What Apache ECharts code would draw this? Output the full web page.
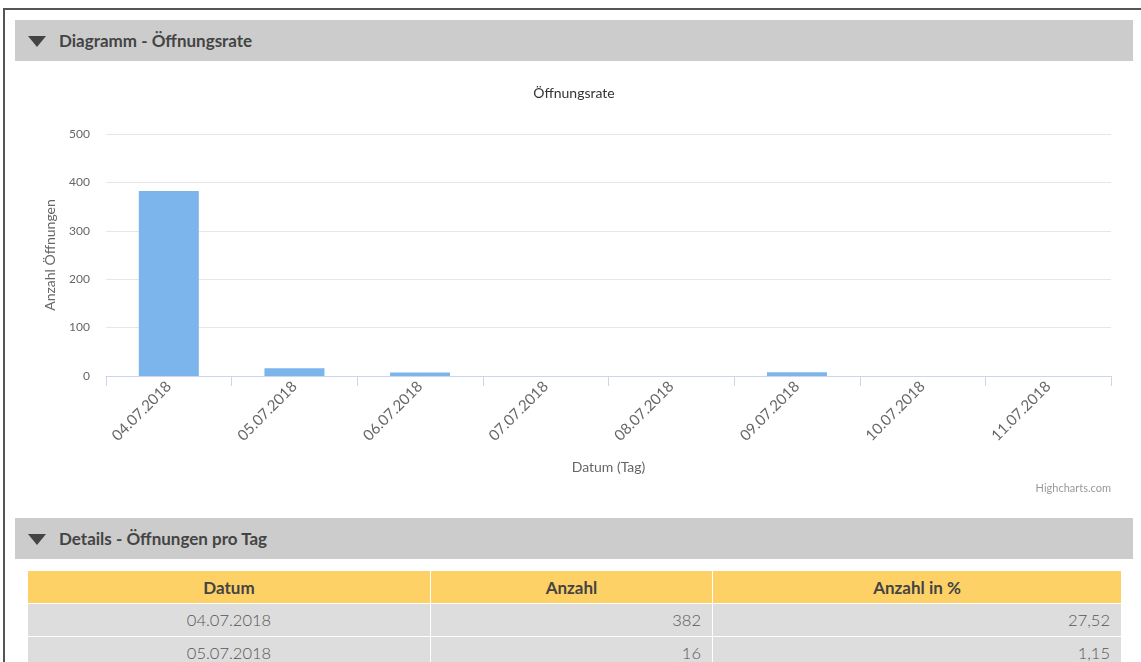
<!DOCTYPE html>
<html>
<head>
<meta charset="utf-8">
<script src="https://cdn.jsdelivr.net/npm/echarts@6/dist/echarts.min.js"></script>
<style>
html, body { margin: 0; padding: 0; background: #fff; overflow: hidden; }
body { width: 1141px; height: 662px; position: relative; font-family: Lato, "Open Sans", sans-serif; }
.frame { position: absolute; left: 3px; top: 8px; width: 1200px; height: 700px; border-top: 2px solid #555; border-left: 2px solid #555; }
.bar { position: absolute; left: 15px; width: 1118px; height: 41px; background: #cccccc; }
.bar .tri { position: absolute; left: 13px; top: 16px; width: 0; height: 0; border-left: 9px solid transparent; border-right: 9px solid transparent; border-top: 11px solid #444; }
.bar .txt { position: absolute; left: 44px; top: 0; line-height: 41px; font-size: 17px; font-weight: bold; color: #444; }
#chart { position: absolute; left: 15px; top: 61px; width: 1118px; height: 457px; }
table { position: absolute; left: 27px; top: 570px; width: 1095px; border-collapse: collapse; font-family: Lato, sans-serif; }
th { background: #fed166; height: 32px; font-size: 17px; font-weight: bold; color: #444; border: 1px solid #fff; padding: 0; }
td { background: #dddddd; height: 32px; font-size: 16.5px; font-weight: 300; color: #555; border: 1px solid #fff; padding: 0 11px; }
</style>
</head>
<body>
<div class="frame"></div>
<div class="bar" style="top:20px"><div class="tri"></div><div class="txt">Diagramm - Öffnungsrate</div></div>
<div id="chart"></div>
<div class="bar" style="top:518px"><div class="tri"></div><div class="txt">Details - Öffnungen pro Tag</div></div>
<table id="details">
  <thead><tr><th style="width:402px">Datum</th><th style="width:281px">Anzahl</th><th>Anzahl in %</th></tr></thead>
  <tbody></tbody>
</table>
<script>
var dates = ["04.07.2018", "05.07.2018", "06.07.2018", "07.07.2018", "08.07.2018", "09.07.2018", "10.07.2018", "11.07.2018"];
var openings = [382, 16, 7, 0, 0, 8, 0, 0];
var yTicks = [0, 100, 200, 300, 400, 500];

var tableDates = ["04.07.2018", "05.07.2018"];
var tableCounts = ["382", "16"];
var tablePercents = ["27,52", "1,15"];

var tbody = document.querySelector("#details tbody");
tableDates.forEach(function(d, i) {
    var tr = document.createElement("tr");
    tr.innerHTML = '<td style="text-align:center">' + d + '</td>' +
        '<td style="text-align:right">' + tableCounts[i] + '</td>' +
        '<td style="text-align:right">' + tablePercents[i] + '</td>';
    tbody.appendChild(tr);
});

var chart = echarts.init(document.getElementById("chart"));
chart.setOption({
    animation: false,
    textStyle: { fontFamily: "Lato" },
    title: {
        text: "Öffnungsrate",
        left: "center",
        top: 20,
        textStyle: { fontSize: 14, fontWeight: "normal", color: "#333" }
    },
    grid: { left: 91, right: 22, top: 73, bottom: 142 },
    xAxis: {
        type: "category",
        data: dates,
        name: "Datum (Tag)",
        nameLocation: "middle",
        nameGap: 84,
        nameTextStyle: { fontSize: 14, color: "#666" },
        axisLine: { lineStyle: { color: "#ccd6eb" } },
        axisTick: { show: true, length: 10, lineStyle: { color: "#ccd6eb" } },
        axisLabel: { rotate: 45, fontSize: 15, color: "#666", margin: 8 }
    },
    yAxis: {
        type: "value",
        min: yTicks[0],
        max: yTicks[yTicks.length - 1],
        interval: yTicks[1] - yTicks[0],
        name: "Anzahl Öffnungen",
        nameLocation: "middle",
        nameGap: 49,
        nameTextStyle: { fontSize: 14, color: "#666" },
        axisLine: { show: false },
        axisTick: { show: false },
        axisLabel: { fontSize: 12, color: "#666", margin: 16 },
        splitLine: { lineStyle: { color: "#e6e6e6" } }
    },
    series: [{
        type: "bar",
        data: openings,
        barWidth: 60,
        itemStyle: { color: "#7cb5ec" }
    }],
    graphic: [{
        type: "text",
        right: 22,
        bottom: 24,
        style: { text: "Highcharts.com", fontSize: 11, fill: "#999", fontFamily: "Lato" }
    }]
});
</script>
</body>
</html>
